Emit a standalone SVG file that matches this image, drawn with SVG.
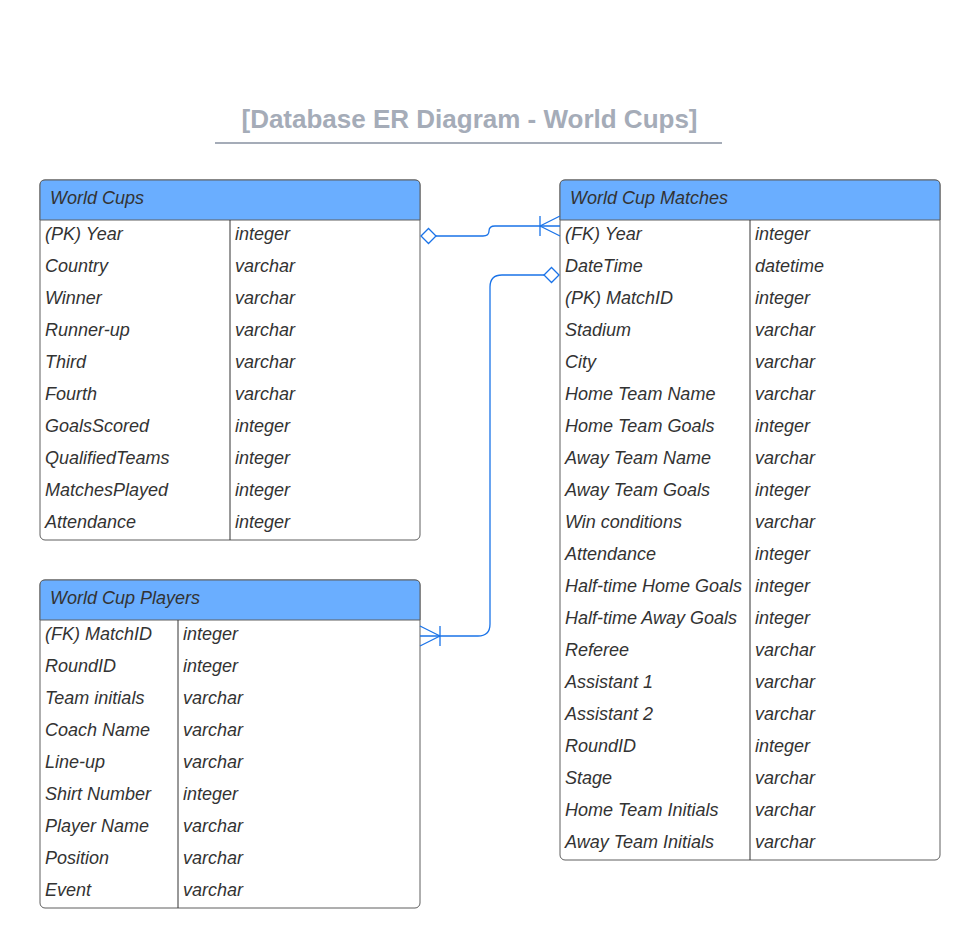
<svg xmlns="http://www.w3.org/2000/svg" width="980" height="948" viewBox="0 0 980 948">
<style>
.tbl{fill:#ffffff;stroke:#5e5e5e;stroke-width:1}
.hdr{fill:#6aaeff;stroke:#5e5e5e;stroke-width:1}
.div{stroke:#333333;stroke-width:1}
.t{font-family:"Liberation Sans",Arial,sans-serif;font-style:italic;font-size:18px;fill:#333333}
.title{font-family:"Liberation Sans",Arial,sans-serif;font-weight:bold;font-size:26px;fill:#a5acb8}
.conn{fill:none;stroke:#1a73e8;stroke-width:1.3}
.dia{fill:#ffffff;stroke:#1a73e8;stroke-width:1.3}
</style>
<rect width="980" height="948" fill="#ffffff"/>
<g id="title">
<text class="title" x="469.5" y="128" text-anchor="middle">[Database ER Diagram - World Cups]</text>
<line x1="215" y1="143" x2="722" y2="143" stroke="#a5acb8" stroke-width="2"/>
</g>
<g id="world-cups">
<rect class="tbl" x="40" y="180" width="380" height="360" rx="5"/>
<path class="hdr" d="M40,220 V185 Q40,180 45,180 H415 Q420,180 420,185 V220 Z"/>
<line class="div" x1="230" y1="220" x2="230" y2="540"/>
<text class="t" x="50" y="204">World Cups</text>
<text class="t" x="45" y="239.5">(PK) Year</text><text class="t" x="235" y="239.5">integer</text>
<text class="t" x="45" y="271.5">Country</text><text class="t" x="235" y="271.5">varchar</text>
<text class="t" x="45" y="303.5">Winner</text><text class="t" x="235" y="303.5">varchar</text>
<text class="t" x="45" y="335.5">Runner-up</text><text class="t" x="235" y="335.5">varchar</text>
<text class="t" x="45" y="367.5">Third</text><text class="t" x="235" y="367.5">varchar</text>
<text class="t" x="45" y="399.5">Fourth</text><text class="t" x="235" y="399.5">varchar</text>
<text class="t" x="45" y="431.5">GoalsScored</text><text class="t" x="235" y="431.5">integer</text>
<text class="t" x="45" y="463.5">QualifiedTeams</text><text class="t" x="235" y="463.5">integer</text>
<text class="t" x="45" y="495.5">MatchesPlayed</text><text class="t" x="235" y="495.5">integer</text>
<text class="t" x="45" y="527.5">Attendance</text><text class="t" x="235" y="527.5">integer</text>
</g>
<g id="world-cup-players">
<rect class="tbl" x="40" y="580" width="380" height="328" rx="5"/>
<path class="hdr" d="M40,620 V585 Q40,580 45,580 H415 Q420,580 420,585 V620 Z"/>
<line class="div" x1="178" y1="620" x2="178" y2="908"/>
<text class="t" x="50" y="604">World Cup Players</text>
<text class="t" x="45" y="639.5">(FK) MatchID</text><text class="t" x="183" y="639.5">integer</text>
<text class="t" x="45" y="671.5">RoundID</text><text class="t" x="183" y="671.5">integer</text>
<text class="t" x="45" y="703.5">Team initials</text><text class="t" x="183" y="703.5">varchar</text>
<text class="t" x="45" y="735.5">Coach Name</text><text class="t" x="183" y="735.5">varchar</text>
<text class="t" x="45" y="767.5">Line-up</text><text class="t" x="183" y="767.5">varchar</text>
<text class="t" x="45" y="799.5">Shirt Number</text><text class="t" x="183" y="799.5">integer</text>
<text class="t" x="45" y="831.5">Player Name</text><text class="t" x="183" y="831.5">varchar</text>
<text class="t" x="45" y="863.5">Position</text><text class="t" x="183" y="863.5">varchar</text>
<text class="t" x="45" y="895.5">Event</text><text class="t" x="183" y="895.5">varchar</text>
</g>
<g id="world-cup-matches">
<rect class="tbl" x="560" y="180" width="380" height="680" rx="5"/>
<path class="hdr" d="M560,220 V185 Q560,180 565,180 H935 Q940,180 940,185 V220 Z"/>
<line class="div" x1="750" y1="220" x2="750" y2="860"/>
<text class="t" x="570" y="204">World Cup Matches</text>
<text class="t" x="565" y="239.5">(FK) Year</text><text class="t" x="755" y="239.5">integer</text>
<text class="t" x="565" y="271.5">DateTime</text><text class="t" x="755" y="271.5">datetime</text>
<text class="t" x="565" y="303.5">(PK) MatchID</text><text class="t" x="755" y="303.5">integer</text>
<text class="t" x="565" y="335.5">Stadium</text><text class="t" x="755" y="335.5">varchar</text>
<text class="t" x="565" y="367.5">City</text><text class="t" x="755" y="367.5">varchar</text>
<text class="t" x="565" y="399.5">Home Team Name</text><text class="t" x="755" y="399.5">varchar</text>
<text class="t" x="565" y="431.5">Home Team Goals</text><text class="t" x="755" y="431.5">integer</text>
<text class="t" x="565" y="463.5">Away Team Name</text><text class="t" x="755" y="463.5">varchar</text>
<text class="t" x="565" y="495.5">Away Team Goals</text><text class="t" x="755" y="495.5">integer</text>
<text class="t" x="565" y="527.5">Win conditions</text><text class="t" x="755" y="527.5">varchar</text>
<text class="t" x="565" y="559.5">Attendance</text><text class="t" x="755" y="559.5">integer</text>
<text class="t" x="565" y="591.5">Half-time Home Goals</text><text class="t" x="755" y="591.5">integer</text>
<text class="t" x="565" y="623.5">Half-time Away Goals</text><text class="t" x="755" y="623.5">integer</text>
<text class="t" x="565" y="655.5">Referee</text><text class="t" x="755" y="655.5">varchar</text>
<text class="t" x="565" y="687.5">Assistant 1</text><text class="t" x="755" y="687.5">varchar</text>
<text class="t" x="565" y="719.5">Assistant 2</text><text class="t" x="755" y="719.5">varchar</text>
<text class="t" x="565" y="751.5">RoundID</text><text class="t" x="755" y="751.5">integer</text>
<text class="t" x="565" y="783.5">Stage</text><text class="t" x="755" y="783.5">varchar</text>
<text class="t" x="565" y="815.5">Home Team Initials</text><text class="t" x="755" y="815.5">varchar</text>
<text class="t" x="565" y="847.5">Away Team Initials</text><text class="t" x="755" y="847.5">varchar</text>
</g>
<g id="connectors">
<path class="conn" d="M436,236 H483 Q489,236 489,231 Q489,226 495,226 H560"/>
<path class="conn" d="M540,216 V236 M540,226 L560,216 M540,226 L560,236"/>
<path class="dia" d="M421,236 L428.5,228.5 L436,236 L428.5,243.5 Z"/>
<path class="conn" d="M544,275 H502 Q490,275 490,287 V624 Q490,636 478,636 H420"/>
<path class="conn" d="M440,626 V646 M440,636 L420,626 M440,636 L420,646"/>
<path class="dia" d="M559,275 L551.5,267.5 L544,275 L551.5,282.5 Z"/>
</g>
</svg>
